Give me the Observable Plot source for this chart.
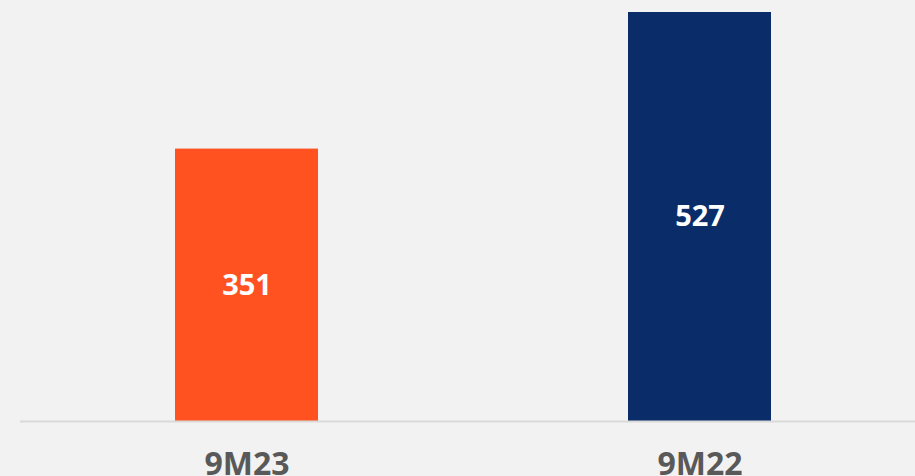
<!DOCTYPE html>
<html>
<head>
<meta charset="utf-8">
<script src="https://cdn.jsdelivr.net/npm/d3@7"></script>
<script src="https://cdn.jsdelivr.net/npm/@observablehq/plot@0.6"></script>
<style>
  html, body { margin: 0; padding: 0; background: #f2f2f2; }
  #chart svg { display: block; }
</style>
</head>
<body>
<div id="chart"></div>
<script>
const categories = ["9M23", "9M22"];
const values = [351, 527];
const colors = ["#FF5220", "#0A2D69"];

const data = categories.map((c, i) => ({category: c, value: values[i], color: colors[i]}));

const chart = Plot.plot({
  width: 915,
  height: 476,
  marginLeft: 20,
  marginRight: 0,
  marginTop: 12,
  marginBottom: 55,
  style: {background: "#f2f2f2", fontFamily: "'Open Sans', sans-serif"},
  x: {domain: categories, paddingInner: 0.6843, paddingOuter: 0.33, align: 0.518, axis: null},
  y: {domain: [0, 527], axis: null},
  marks: [
    Plot.barY(data, {x: "category", y: "value", fill: "color"}),
    Plot.ruleY([0], {stroke: "#d9d9d9", strokeWidth: 2}),
    Plot.text(data, {x: "category", y: d => d.value / 2, text: d => String(d.value), fill: "white", fontSize: 29, fontWeight: "bold", lineAnchor: "middle"}),
    Plot.text(data, {x: "category", frameAnchor: "bottom", text: "category", fill: "#595959", fontSize: 32, fontWeight: "bold", lineAnchor: "bottom", dy: 53})
  ]
});
document.getElementById("chart").appendChild(chart);
</script>
</body>
</html>
